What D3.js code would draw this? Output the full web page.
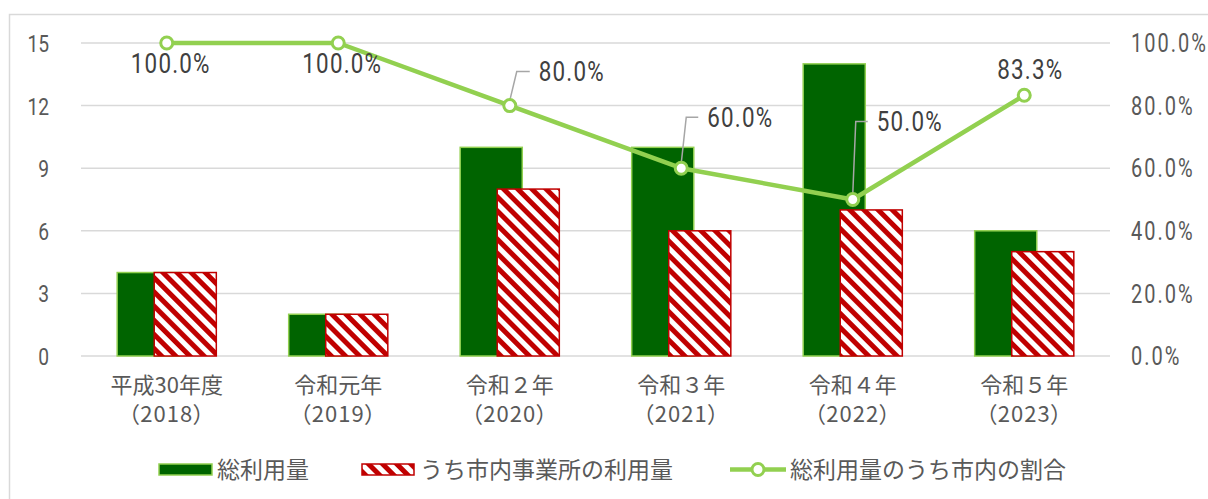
<!DOCTYPE html>
<html><head><meta charset="utf-8">
<script src="https://cdn.jsdelivr.net/npm/d3@7"></script>
<style>
html,body{margin:0;padding:0;background:#fff;}
svg{display:block;}
.num{font-family:Roboto,"Liberation Sans",sans-serif;}
.jp{font-family:"Noto Sans CJK JP",sans-serif;}
</style></head>
<body>
<svg id="c" width="1208" height="499"></svg>
<script>
const categories = ["平成30年度","令和元年","令和２年","令和３年","令和４年","令和５年"];
const years = ["（2018）","（2019）","（2020）","（2021）","（2022）","（2023）"];
const totalUse = [4, 2, 10, 10, 14, 6];
const cityUse = [4, 2, 8, 6, 7, 5];
const cityRatio = [100.0, 100.0, 80.0, 60.0, 50.0, 83.3];
const leftTicks = [0, 3, 6, 9, 12, 15];
const rightTicks = [0, 20, 40, 60, 80, 100];
const seriesNames = ["総利用量","うち市内事業所の利用量","総利用量のうち市内の割合"];

// label placement (style config, not data)
const labelPlace = [
  {mode:"below", dx:4, dy:20},
  {mode:"below", dx:4, dy:20},
  {mode:"leader", lx:7, ly:-34, hx:20, tx:29},
  {mode:"leader", lx:5, ly:-51, hx:17, tx:26},
  {mode:"leader", lx:3, ly:-78, hx:15, tx:24},
  {mode:"above", dx:6, dy:-26}
];

const svg = d3.select("#c");
const txt = "#595959";
const gridC = "#d9d9d9";
const greenFill = "#006400", greenStroke = "#92D050", red = "#C00000", lineC = "#92D050";
const SX = 0.8;

// border
svg.append("rect").attr("x",9.5).attr("y",14.5).attr("width",1400).attr("height",700)
  .attr("fill","none").attr("stroke",gridC).attr("stroke-width",1.5);

const defs = svg.append("defs");
const pat = defs.append("pattern").attr("id","hatch").attr("patternUnits","userSpaceOnUse")
  .attr("width",10).attr("height",10).attr("patternTransform","rotate(-45)");
pat.append("rect").attr("width",10).attr("height",10).attr("fill","#fff");
pat.append("rect").attr("x",0).attr("y",0).attr("width",5).attr("height",10).attr("fill",red);

const x = d3.scaleBand().domain(categories).range([81,1110]).padding(0);
const yL = d3.scaleLinear().domain([0,15]).range([356,43]);
const yR = d3.scaleLinear().domain([0,100]).range([356,43]);
const bw = x.bandwidth();
const barW = bw*0.362, shift = bw*0.216;
const cx = c => x(c) + bw/2;

// gridlines
svg.append("g").selectAll("line").data(leftTicks).join("line")
  .attr("x1",81).attr("x2",1110).attr("y1",d=>yL(d)).attr("y2",d=>yL(d))
  .attr("stroke",gridC).attr("stroke-width",1.5);

// left axis
const gl = svg.append("g").attr("transform","translate(49,0)")
  .call(d3.axisLeft(yL).tickValues(leftTicks).tickSize(0).tickPadding(0));
gl.select(".domain").remove();
gl.selectAll("text").attr("class","num").attr("fill",txt).style("font-size","24px")
  .attr("x",0).attr("dy","0.35em").attr("transform",`scale(${SX},1)`);

// right axis
const gr = svg.append("g").attr("transform","translate(1131,0)")
  .call(d3.axisRight(yR).tickValues(rightTicks).tickSize(0).tickPadding(0).tickFormat(d=>d3.format(".1f")(d)+"%"));
gr.select(".domain").remove();
gr.selectAll("text").attr("class","num").attr("fill",txt).style("font-size","25px").style("letter-spacing","2.5px")
  .attr("x",0).attr("dy","0.35em").attr("transform",`scale(${SX},1)`);

// bars
svg.append("g").selectAll("rect").data(categories).join("rect")
  .attr("x",(c)=>cx(c)-(barW+shift)/2).attr("width",barW)
  .attr("y",(c,i)=>yL(totalUse[i])).attr("height",(c,i)=>yL(0)-yL(totalUse[i]))
  .attr("fill",greenFill).attr("stroke",greenStroke).attr("stroke-width",1.5);
svg.append("g").selectAll("rect").data(categories).join("rect")
  .attr("x",(c)=>cx(c)-(barW+shift)/2+shift).attr("width",barW)
  .attr("y",(c,i)=>yL(cityUse[i])).attr("height",(c,i)=>yL(0)-yL(cityUse[i]))
  .attr("fill","url(#hatch)").attr("stroke",red).attr("stroke-width",1.5);

// x labels
const xl = svg.append("g");
categories.forEach((c,i)=>{
  xl.append("text").attr("class","jp").attr("x",cx(c)).attr("y",385).attr("dy","0.35em")
    .attr("text-anchor","middle").attr("fill",txt).style("font-size","22px").text(c);
  xl.append("text").attr("class","jp").attr("x",cx(c)).attr("y",414).attr("dy","0.35em")
    .attr("text-anchor","middle").attr("fill",txt).style("font-size","22px").style("letter-spacing","1px")
    .style("font-feature-settings","'palt'").text(years[i]);
});

// line
const pts = categories.map((c,i)=>[cx(c), yR(cityRatio[i])]);
svg.append("path").attr("d",d3.line()(pts)).attr("fill","none").attr("stroke",lineC)
  .attr("stroke-width",4.5).attr("stroke-linejoin","round");

// leader lines
const lg = svg.append("g");
pts.forEach((p,i)=>{
  const L = labelPlace[i];
  if(L.mode==="leader"){
    lg.append("polyline").attr("points",[[p[0],p[1]-5],[p[0]+L.lx,p[1]+L.ly],[p[0]+L.hx,p[1]+L.ly]].map(a=>a.join(",")).join(" "))
      .attr("fill","none").attr("stroke","#a6a6a6").attr("stroke-width",1.5);
  }
});

svg.append("g").selectAll("circle").data(pts).join("circle")
  .attr("cx",d=>d[0]).attr("cy",d=>d[1]).attr("r",6)
  .attr("fill","#fff").attr("stroke",lineC).attr("stroke-width",3);

// data labels
const dl = svg.append("g");
pts.forEach((p,i)=>{
  const L = labelPlace[i];
  let tx, ty, anchor;
  if(L.mode==="leader"){ tx=p[0]+L.tx; ty=p[1]+L.ly; anchor="start"; }
  else { tx=p[0]+L.dx; ty=p[1]+L.dy; anchor="middle"; }
  dl.append("g").attr("transform",`translate(${tx},${ty}) scale(${SX},1)`)
    .append("text").attr("class","num").attr("fill","#404040").style("font-size","28px")
    .style("letter-spacing","1.5px").attr("dy","0.35em").attr("text-anchor",anchor)
    .text(d3.format(".1f")(cityRatio[i])+"%");
});

// legend
const leg = svg.append("g");
leg.append("rect").attr("x",159).attr("y",464).attr("width",53).attr("height",11)
  .attr("fill",greenFill).attr("stroke",greenStroke).attr("stroke-width",1.5);
leg.append("text").attr("class","jp").attr("x",217).attr("y",469.5).attr("dy","0.35em")
  .attr("fill",txt).style("font-size","23px").text(seriesNames[0]);
leg.append("rect").attr("x",362).attr("y",464).attr("width",52).attr("height",11)
  .attr("fill","url(#hatch)").attr("stroke",red).attr("stroke-width",1.5);
leg.append("text").attr("class","jp").attr("x",420).attr("y",469.5).attr("dy","0.35em")
  .attr("fill",txt).style("font-size","23px").text(seriesNames[1]);
leg.append("line").attr("x1",730).attr("x2",786).attr("y1",469.5).attr("y2",469.5)
  .attr("stroke",lineC).attr("stroke-width",4.5);
leg.append("circle").attr("cx",758).attr("cy",469.5).attr("r",6)
  .attr("fill","#fff").attr("stroke",lineC).attr("stroke-width",3);
leg.append("text").attr("class","jp").attr("x",790).attr("y",469.5).attr("dy","0.35em")
  .attr("fill",txt).style("font-size","23px").text(seriesNames[2]);
</script>
</body></html>
